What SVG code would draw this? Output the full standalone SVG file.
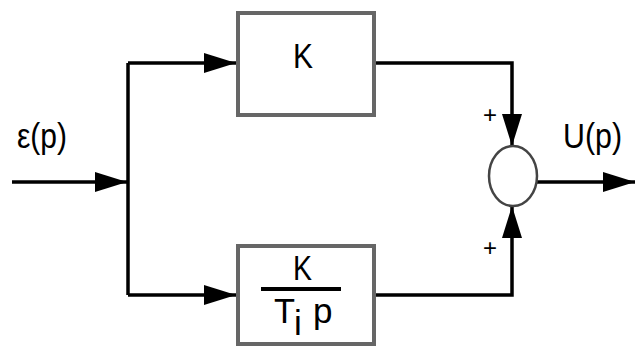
<svg xmlns="http://www.w3.org/2000/svg" width="635" height="346" viewBox="0 0 635 346">
<style>
.box{fill:#fff;stroke:#666;stroke-width:4}
.edge{fill:none;stroke:#000;stroke-width:3.5}
.lbl{font-family:"Liberation Sans",Arial,sans-serif;font-size:35px;fill:#000}
.pm{font-family:"Liberation Sans",Arial,sans-serif;font-size:24px;fill:#000;text-anchor:middle}
</style>
<defs>
<marker id="ah" markerUnits="userSpaceOnUse" markerWidth="34" markerHeight="22" refX="32" refY="10" orient="auto" viewBox="0 0 34 22">
<path d="M0,0 L32,10 L0,20 Z" fill="#000"/>
</marker>
</defs>
<rect width="635" height="346" fill="#fff"/>
<g id="connectors">
<path class="edge" d="M12,182 H127" marker-end="url(#ah)"/>
<path class="edge" d="M128,63 V295"/>
<path class="edge" d="M128,63 H236" marker-end="url(#ah)"/>
<path class="edge" d="M128,295 H236" marker-end="url(#ah)"/>
<path class="edge" d="M376,63 H512 V146" marker-end="url(#ah)"/>
<path class="edge" d="M376,295 H512 V206" marker-end="url(#ah)"/>
<path class="edge" d="M537,182 H635" marker-end="url(#ah)"/>
</g>
<g id="gain">
<rect class="box" x="238" y="13" width="136" height="102"/>
<text class="lbl" x="293" y="68" textLength="20" lengthAdjust="spacingAndGlyphs">K</text>
</g>
<g id="integral">
<rect class="box" x="238" y="246" width="136" height="98"/>
<text class="lbl" x="293" y="280" textLength="19" lengthAdjust="spacingAndGlyphs">K</text>
<line x1="261" y1="289" x2="341" y2="289" stroke="#000" stroke-width="4"/>
<text class="lbl" x="274" y="323" textLength="21" lengthAdjust="spacingAndGlyphs">T</text>
<text class="lbl" x="294" y="335">i</text>
<text class="lbl" x="313" y="323">p</text>
</g>
<g id="sum">
<ellipse cx="513" cy="176" rx="24" ry="30" fill="#fff" stroke="#444" stroke-width="2.5"/>
<text class="pm" x="490" y="123">+</text>
<text class="pm" x="490" y="256">+</text>
</g>
<g id="labels">
<text class="lbl" x="17" y="148" textLength="50" lengthAdjust="spacingAndGlyphs">ε(p)</text>
<text class="lbl" x="563" y="148" textLength="59" lengthAdjust="spacingAndGlyphs">U(p)</text>
</g>
</svg>
